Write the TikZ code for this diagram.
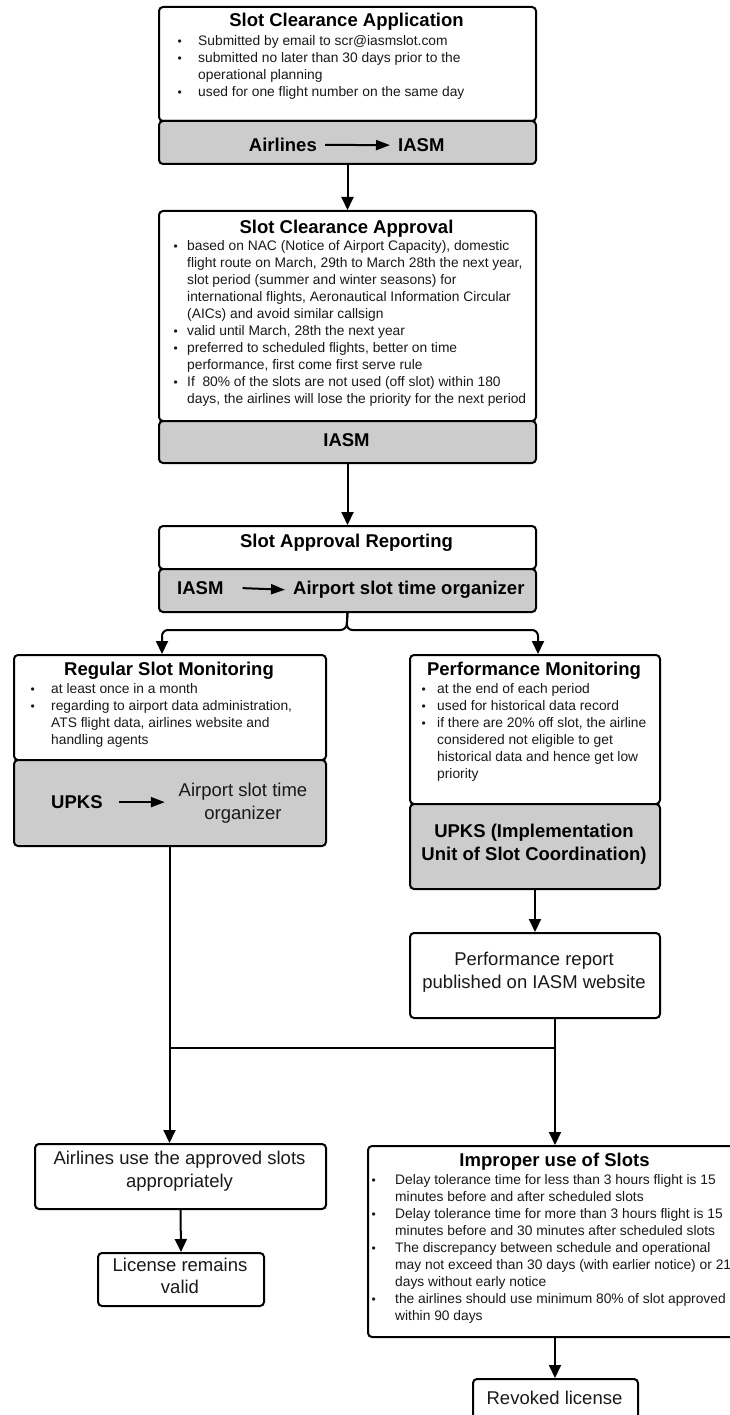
\documentclass[tikz,border=0pt]{standalone}
\usepackage{fontspec}
\setmainfont{Liberation Sans}
\usetikzlibrary{arrows.meta,calc}
\definecolor{boxgray}{RGB}{204,204,204}
\definecolor{txt}{RGB}{25,25,25}
\newlength\bi
\newcommand\bul[1]{\par\noindent\hangindent=\bi\hangafter=1\makebox[\bi][l]{{\fontsize{12}{12}\selectfont\textbullet}}#1}
\newcommand\tsz{\fontsize{18.5}{22.5}\selectfont}
\newcommand\bsz{\fontsize{13.8}{17}\selectfont}
\tikzset{
  wbox/.style={draw=black, line width=2pt, fill=white, rounded corners=4pt, inner sep=0pt, anchor=north west},
  gbox/.style={wbox, fill=boxgray},
  arr/.style={line width=2pt, -{Triangle[length=13pt,width=12pt]}},
  plain/.style={line width=2pt},
  iarr/.style={line width=2pt, -{Triangle[length=14pt,width=10pt]}},
  ttl/.style={anchor=base, inner sep=0pt, font=\tsz\bfseries, text=black},
  glab/.style={inner sep=0pt, font=\tsz\bfseries, text=black},
  gtxt/.style={inner sep=0pt, font=\tsz, text=txt},
  blist/.style={anchor=base west, inner sep=0pt, text=txt},
}
\begin{document}
\begin{tikzpicture}[x=1pt, y=-1pt]
\useasboundingbox (0,0) rectangle (730,1415);
\clip (0,0) rectangle (730,1415);
\fill[white] (0,0) rectangle (730,1415);

% ---------- Slot Clearance Application
\node[wbox, minimum width=377, minimum height=114] (app) at (158,6) {};
\node[gbox, minimum width=377, minimum height=43] (appg) at (158,120) {};
\node[ttl] (appt) at (346.5,27) {Slot Clearance Application};
\node[blist] (appb) at (177.3,46) {\parbox[t]{400pt}{\fontsize{13.8}{16.7}\selectfont\setlength\bi{20.7pt}%
\bul{Submitted by email to scr@iasmslot.com}%
\bul{submitted no later than 30 days prior to the\newline operational planning}%
\bul{used for one flight number on the same day}}};
\node[glab, anchor=base east] (appl1) at (317,151.5) {Airlines};
\node[glab, anchor=base west] (appl2) at (398,151.5) {IASM};
\draw[iarr] ([xshift=8pt]appl1.east) -- ([xshift=-8pt]appl2.west);

% ---------- Slot Clearance Approval
\node[wbox, minimum width=377, minimum height=210] (apv) at (158,210) {};
\node[gbox, minimum width=377, minimum height=42] (apvg) at (158,420) {};
\node[ttl] (apvt) at (346.5,233.5) {Slot Clearance Approval};
\node[blist] (apvb) at (173.3,250.5) {\parbox[t]{400pt}{\bsz\setlength\bi{13.7pt}%
\bul{based on NAC (Notice of Airport Capacity), domestic\newline flight route on March, 29th to March 28th the next year,\newline slot period (summer and winter seasons) for\newline international flights, Aeronautical Information Circular\newline (AICs) and avoid similar callsign}%
\bul{valid until March, 28th the next year}%
\bul{preferred to scheduled flights, better on time\newline performance, first come first serve rule}%
\bul{If\ \ 80\% of the slots are not used (off slot) within 180\newline days, the airlines will lose the priority for the next period}}};
\node[glab, anchor=base] (apvl) at (346.5,446.5) {IASM};

% ---------- Slot Approval Reporting
\node[wbox, minimum width=377, minimum height=43] (rep) at (158,525) {};
\node[gbox, minimum width=377, minimum height=43] (repg) at (158,568) {};
\node[ttl] (rept) at (346.5,547.5) {Slot Approval Reporting};
\node[glab, anchor=base west] (repl1) at (177,594.5) {IASM};
\node[glab, anchor=base west] (repl2) at (293,594.5) {Airport slot time organizer};
\draw[iarr] ([xshift=19pt]repl1.east) -- ([xshift=-8pt]repl2.west);

% ---------- Regular Slot Monitoring
\node[wbox, minimum width=312, minimum height=105] (reg) at (13,654) {};
\node[gbox, minimum width=312, minimum height=86] (regg) at (13,759) {};
\node[ttl] (regt) at (169,675.5) {Regular Slot Monitoring};
\node[blist] (regb) at (30.3,693.5) {\parbox[t]{300pt}{\bsz\setlength\bi{20.7pt}%
\bul{at least once in a month}%
\bul{regarding to airport data administration,\newline ATS flight data, airlines website and\newline handling agents}}};
\node[glab, anchor=base west] (regl1) at (51,808.5) {UPKS};
\node[gtxt, anchor=base] (regl2) at (243,796.5) {\parbox[t]{200pt}{\centering\tsz Airport slot time\\organizer}};
\draw[iarr] ([xshift=16pt]regl1.east) -- ([xshift=62pt]regl1.east);

% ---------- Performance Monitoring
\node[wbox, minimum width=250, minimum height=149] (perf) at (409,654) {};
\node[gbox, minimum width=250, minimum height=85] (perfg) at (409,803) {};
\node[ttl] (perft) at (534,675.5) {Performance Monitoring};
\node[blist] (perfb) at (421.3,693.5) {\parbox[t]{300pt}{\bsz\setlength\bi{15.7pt}%
\bul{at the end of each period}%
\bul{used for historical data record}%
\bul{if there are 20\% off slot, the airline\newline considered not eligible to get\newline historical data and hence get low\newline priority}}};
\node[glab, anchor=base] (perfl) at (534,837.5) {\parbox[t]{300pt}{\centering\tsz\bfseries UPKS (Implementation\\Unit of Slot Coordination)}};

% ---------- Performance report
\node[wbox, minimum width=250, minimum height=85] (prep) at (409,932) {};
\node[gtxt, anchor=base] (prept) at (534,965.5) {\parbox[t]{300pt}{\centering\fontsize{18.5}{23}\selectfont Performance report\\published on IASM website}};

% ---------- Airlines use the approved slots
\node[wbox, minimum width=291, minimum height=65] (airl) at (34,1143) {};
\node[gtxt, anchor=base] (airlt) at (179.5,1164.5) {\parbox[t]{300pt}{\centering\fontsize{18.5}{22.5}\selectfont Airlines use the approved slots\\appropriately}};

% ---------- License remains valid
\node[wbox, minimum width=166, minimum height=53] (lic) at (97,1252) {};
\node[gtxt, anchor=base] (lict) at (180,1271.5) {\parbox[t]{200pt}{\centering\fontsize{18.5}{22}\selectfont License remains\\valid}};

% ---------- Improper use of Slots
\node[wbox, minimum width=375, minimum height=191] (impr) at (367,1145) {};
\node[ttl] (imprt) at (554.5,1166.5) {Improper use of Slots};
\node[blist] (imprb) at (371.3,1184.5) {\parbox[t]{420pt}{\bsz\setlength\bi{23.7pt}%
\bul{Delay tolerance time for less than 3 hours flight is 15\newline minutes before and after scheduled slots}%
\bul{Delay tolerance time for more than 3 hours flight is 15\newline minutes before and 30 minutes after scheduled slots}%
\bul{The discrepancy between schedule and operational\newline may not exceed than 30 days (with earlier notice) or 21\newline days without early notice}%
\bul{the airlines should use minimum 80\% of slot approved\newline within 90 days}}};

% ---------- Revoked license
\node[wbox, minimum width=165, minimum height=50] (rev) at (472,1378) {};
\node[gtxt, anchor=base] (revt) at (554.5,1404.5) {Revoked license};

% ---------- connectors
\draw[arr] (appg.south) -- (apv.north);
\draw[arr] (apvg.south) -- (rep.north);
\coordinate (bj) at (346.5,630);
\coordinate (regin) at (162,654);
\coordinate (perfin) at (538,654);
\draw[arr, rounded corners=6pt] (repg.south) -- (bj) -| (regin);
\draw[arr, rounded corners=6pt] (repg.south) -- (bj) -| (perfin);
\draw[arr] (perfg.south) -- (prep.north);
\coordinate (jl) at (169.5,1048);
\coordinate (jr) at (555,1048);
\draw[arr] (regg.south -| jl) -- (airl.north -| jl);
\draw[arr] (prep.south -| jr) -- (impr.north -| jr);
\draw[plain] (jl) -- (jr);
\draw[arr] (airl.south) -- (lic.north);
\draw[arr] (impr.south -| jr) -- (rev.north -| jr);
\end{tikzpicture}
\end{document}
